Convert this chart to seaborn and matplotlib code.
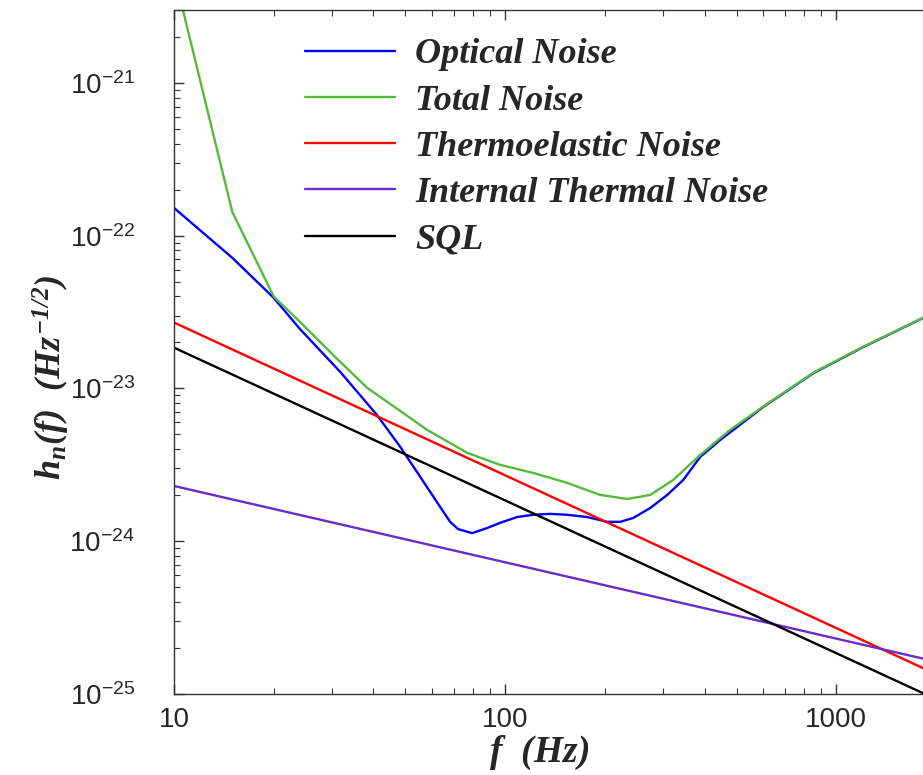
import numpy as np
import pandas as pd
import seaborn as sns
import matplotlib.pyplot as plt
from matplotlib.ticker import FuncFormatter, LogLocator, NullFormatter, FixedLocator

# valores (f en Hz, h en Hz^-1/2)
opt_f = [10, 15, 20, 24, 31.7, 41, 48.2, 55.4, 63.6, 68.2, 72.1, 79.5, 88.2, 96.6, 108.7,
         121.5, 136.8, 153.9, 176.9, 203.3, 222.6, 243.6, 274.2, 308.7, 345, 388, 446,
         602, 853, 1208, 1833, 2000]
opt_h = [1.52e-22, 7.16e-23, 3.92e-23, 2.45e-23, 1.29e-23, 6.71e-24, 4.15e-24, 2.64e-24,
         1.68e-24, 1.34e-24, 1.20e-24, 1.13e-24, 1.22e-24, 1.32e-24, 1.44e-24, 1.49e-24,
         1.51e-24, 1.49e-24, 1.44e-24, 1.34e-24, 1.34e-24, 1.42e-24, 1.65e-24, 2.01e-24,
         2.52e-24, 3.56e-24, 4.60e-24, 7.57e-24, 1.26e-23, 1.87e-23, 2.90e-23, 3.16e-23]

tot_f = [10, 15, 20, 24, 30.2, 38.3, 58.1, 76.8, 96.6, 121.5, 153.9, 193.6, 233.7, 274.2,
         321.8, 388, 478, 602, 853, 1208, 1833, 2000]
tot_h = [5.2e-21, 1.43e-22, 4.0e-23, 2.73e-23, 1.66e-23, 1.01e-23, 5.36e-24, 3.79e-24,
         3.16e-24, 2.80e-24, 2.41e-24, 2.01e-24, 1.89e-24, 2.01e-24, 2.52e-24, 3.67e-24,
         5.36e-24, 7.62e-24, 1.27e-23, 1.88e-23, 2.91e-23, 3.17e-23]

te_f = [10, 2000]
te_h = [2.7e-23, 1.35e-25]

it_f = [10, 2000]
it_h = [2.3e-24, 1.63e-25]

sql_f = [10, 2000]
sql_h = [1.85e-23, 9.25e-26]

nombres = ['Optical Noise', 'Total Noise', 'Thermoelastic Noise',
           'Internal Thermal Noise', 'SQL']
colores = ['#0000ff', '#55bb3a', '#ff0000', '#6b2cc4', '#000000']
x_ticks = [10, 100, 1000]
y_ticks = [1e-25, 1e-24, 1e-23, 1e-22, 1e-21]

partes = []
for n, f, h in zip(nombres, [opt_f, tot_f, te_f, it_f, sql_f],
                   [opt_h, tot_h, te_h, it_h, sql_h]):
    partes.append(pd.DataFrame({'f': f, 'h': h, 'curva': n}))
df = pd.concat(partes, ignore_index=True)

sns.set_style('ticks')
plt.rcParams['font.family'] = ['Liberation Sans', 'DejaVu Sans']
plt.rcParams['mathtext.fontset'] = 'custom'
plt.rcParams['mathtext.rm'] = 'Liberation Serif:italic:bold'
plt.rcParams['mathtext.it'] = 'Liberation Serif:italic:bold'
plt.rcParams['mathtext.bf'] = 'Liberation Serif:italic:bold'

fig = plt.figure(figsize=(9.23, 7.75), dpi=100)
# el eje sigue mas alla del borde derecho (la figura original esta recortada)
ax = fig.add_axes([0.1885, 0.1045, 0.8256, 0.8826])

sns.lineplot(data=df, x='f', y='h', hue='curva', hue_order=nombres,
             palette=colores, linewidth=1.7, estimator=None, ax=ax)

ax.set_xscale('log')
ax.set_yscale('log')
ax.set_xlim(10, 2000)
ax.set_ylim(1e-25, 3e-21)

ax.xaxis.set_major_locator(FixedLocator(x_ticks))
ax.xaxis.set_major_formatter(FuncFormatter(lambda v, p: f'{v:g}'))
ax.xaxis.set_minor_locator(LogLocator(subs=np.arange(2, 10)))
ax.xaxis.set_minor_formatter(NullFormatter())
ax.yaxis.set_major_locator(FixedLocator(y_ticks))
ax.yaxis.set_minor_locator(LogLocator(subs=np.arange(2, 10)))
ax.yaxis.set_minor_formatter(NullFormatter())

ax.tick_params(which='both', direction='in', top=True, right=False, color='#333333')
ax.tick_params(which='major', length=7, width=1, labelsize=20)
ax.tick_params(which='minor', length=4, width=0.8)
ax.tick_params(axis='x', pad=9)
ax.tick_params(axis='y', pad=28)
for s in ax.spines.values():
    s.set_color('#333333')
    s.set_linewidth(1)

ax.set_xlabel(r'$f\ \ (Hz)$', fontsize=27)
ax.set_ylabel(r'$h_n(f)\ \ (Hz^{-1/2})$', fontsize=26)
ax.xaxis.set_label_coords(0.479, -0.058)
ax.yaxis.set_label_coords(-0.134, 0.4635)

handles, labels = ax.get_legend_handles_labels()
ax.legend(handles, labels, loc='upper left', bbox_to_anchor=(305 / 923, 1 - 38 / 775),
          bbox_transform=fig.transFigure, frameon=False, borderpad=0, borderaxespad=0,
          handlelength=2.5, handletextpad=0.55, labelspacing=0.36,
          prop=dict(family='Liberation Serif', style='italic', weight='bold', size=26))

fig.savefig('out.png', dpi=100)
